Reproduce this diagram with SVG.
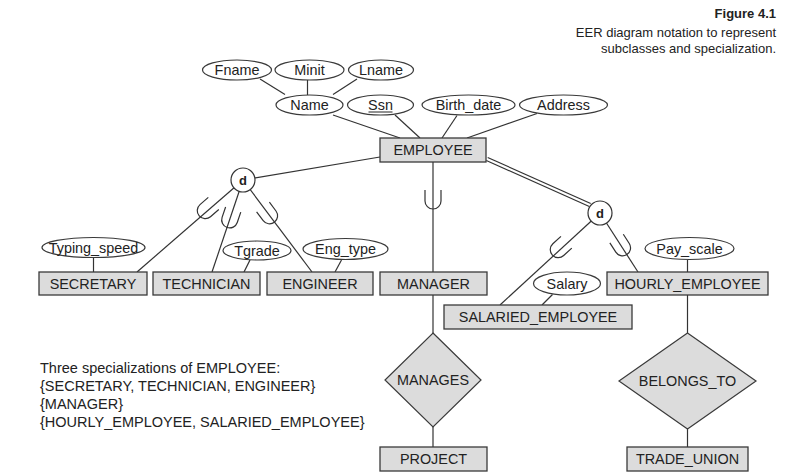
<svg xmlns="http://www.w3.org/2000/svg" xmlns:xlink="http://www.w3.org/1999/xlink" width="790" height="472" viewBox="0 0 790 472">
<defs>
<style>
text{font-family:"Liberation Sans",Arial,Helvetica,sans-serif;fill:#222}
.lbl{font-size:14.4px;text-anchor:middle}
.ent{fill:#dcdcdc;stroke:#3a3a3a;stroke-width:1.3}
.att{fill:#fff;stroke:#3a3a3a;stroke-width:1.2}
.rel{fill:#dcdcdc;stroke:#3a3a3a;stroke-width:1.2}
.ln{stroke:#333;stroke-width:1.2;fill:none}
.cir{fill:#fff;stroke:#333;stroke-width:1.2}
.d{font-size:13px;font-weight:bold;text-anchor:middle}
.note{font-size:14.5px}
.cap{font-size:13px;text-anchor:end}
</style>
<path id="cup" d="M-8,-10 V1 A8,8 0 0 0 8,1 V-10" fill="none" stroke="#333" stroke-width="1.2"/>
</defs>
<rect width="790" height="472" fill="#fff"/>

<g id="caption">
<text class="cap" x="776" y="18" font-weight="bold">Figure 4.1</text>
<text class="cap" x="776" y="36.5">EER diagram notation to represent</text>
<text class="cap" x="776" y="52.5">subclasses and specialization.</text>
</g>

<g id="connectors">
<line class="ln" x1="260" y1="79" x2="285" y2="94.5"/>
<line class="ln" x1="307.5" y1="80" x2="307.5" y2="95"/>
<line class="ln" x1="357" y1="79" x2="333" y2="94.5"/>
<line class="ln" x1="333" y1="115" x2="400" y2="138"/>
<line class="ln" x1="395" y1="115" x2="420" y2="138"/>
<line class="ln" x1="457" y1="115.5" x2="442" y2="138"/>
<line class="ln" x1="537" y1="113.5" x2="467" y2="138"/>
<line class="ln" x1="380" y1="157" x2="243" y2="180"/>
<line class="ln" x1="243" y1="180" x2="137" y2="272"/>
<line class="ln" x1="243" y1="180" x2="212" y2="272"/>
<line class="ln" x1="243" y1="180" x2="312" y2="272"/>
<line class="ln" x1="433" y1="162" x2="433" y2="272"/>
<line class="ln" x1="487.7" y1="157.5" x2="590.7" y2="203.5"/>
<line class="ln" x1="486.3" y1="160.5" x2="589.3" y2="206.5"/>
<line class="ln" x1="600" y1="213" x2="500" y2="305"/>
<line class="ln" x1="600" y1="213" x2="638" y2="272"/>
<line class="ln" x1="93.5" y1="257.5" x2="93.5" y2="272"/>
<line class="ln" x1="250" y1="260" x2="244" y2="272"/>
<line class="ln" x1="341.5" y1="260" x2="335" y2="272"/>
<line class="ln" x1="687.5" y1="260" x2="687.5" y2="272"/>
<line class="ln" x1="552.5" y1="294.5" x2="542" y2="305"/>
<line class="ln" x1="433" y1="295" x2="433" y2="333"/>
<line class="ln" x1="433" y1="427" x2="433" y2="447"/>
<line class="ln" x1="687.5" y1="295" x2="687.5" y2="333"/>
<line class="ln" x1="687.5" y1="429" x2="687.5" y2="447"/>
<use xlink:href="#cup" transform="translate(206,210) rotate(49)"/>
<use xlink:href="#cup" transform="translate(230,219) rotate(18.6)"/>
<use xlink:href="#cup" transform="translate(269,215) rotate(-36.9)"/>
<use xlink:href="#cup" transform="translate(433,200)"/>
<use xlink:href="#cup" transform="translate(559,249) rotate(47.4)"/>
<use xlink:href="#cup" transform="translate(622,247) rotate(-32.8)"/>
</g>

<g id="Fname"><ellipse class="att" cx="237" cy="70" rx="34.5" ry="10"/><text class="lbl" x="237" y="75">Fname</text></g>
<g id="Minit"><ellipse class="att" cx="309.5" cy="70" rx="34.5" ry="10"/><text class="lbl" x="309.5" y="75">Minit</text></g>
<g id="Lname"><ellipse class="att" cx="381" cy="70" rx="32.5" ry="10"/><text class="lbl" x="381" y="75">Lname</text></g>
<g id="Name"><ellipse class="att" cx="309.5" cy="105" rx="33.5" ry="10"/><text class="lbl" x="309.5" y="110">Name</text></g>
<g id="Ssn"><ellipse class="att" cx="380.5" cy="105" rx="33" ry="10"/><text class="lbl" x="380.5" y="110">Ssn</text><line x1="368.5" y1="112" x2="392.5" y2="112" stroke="#222" stroke-width="1"/></g>
<g id="Birth_date"><ellipse class="att" cx="468.5" cy="105" rx="46.5" ry="10"/><text class="lbl" x="468.5" y="110">Birth_date</text></g>
<g id="Address"><ellipse class="att" cx="563.5" cy="105" rx="44" ry="10"/><text class="lbl" x="563.5" y="110">Address</text></g>

<g id="EMPLOYEE"><rect class="ent" x="380" y="138" width="106" height="24"/><text class="lbl" x="433" y="155">EMPLOYEE</text></g>

<g id="d1"><circle class="cir" cx="243" cy="180" r="12"/><text class="d" x="243" y="185">d</text></g>
<g id="d2"><circle class="cir" cx="600" cy="213" r="12"/><text class="d" x="600" y="218">d</text></g>

<g id="Typing_speed"><ellipse class="att" cx="93.5" cy="247.5" rx="51.5" ry="10"/><text class="lbl" x="93.5" y="252.5">Typing_speed</text></g>
<g id="Tgrade"><ellipse class="att" cx="257" cy="250.5" rx="34" ry="9.5"/><text class="lbl" x="257" y="255.5">Tgrade</text></g>
<g id="Eng_type"><ellipse class="att" cx="345.5" cy="249" rx="42.5" ry="10.5"/><text class="lbl" x="345.5" y="254">Eng_type</text></g>
<g id="Pay_scale"><ellipse class="att" cx="689.5" cy="248.5" rx="44.5" ry="11"/><text class="lbl" x="689.5" y="253.5">Pay_scale</text></g>
<g id="Salary"><ellipse class="att" cx="567" cy="283.5" rx="33.5" ry="11.5"/><text class="lbl" x="567" y="288.5">Salary</text></g>

<g id="SECRETARY"><rect class="ent" x="39" y="272" width="108" height="23"/><text class="lbl" x="93" y="288.5">SECRETARY</text></g>
<g id="TECHNICIAN"><rect class="ent" x="153" y="272" width="107" height="23"/><text class="lbl" x="206.5" y="288.5">TECHNICIAN</text></g>
<g id="ENGINEER"><rect class="ent" x="267" y="272" width="106" height="23"/><text class="lbl" x="320" y="288.5">ENGINEER</text></g>
<g id="MANAGER"><rect class="ent" x="380" y="272" width="107" height="23"/><text class="lbl" x="433.5" y="288.5">MANAGER</text></g>
<g id="HOURLY_EMPLOYEE"><rect class="ent" x="607" y="272" width="161" height="23"/><text class="lbl" x="687.5" y="288.5">HOURLY_EMPLOYEE</text></g>
<g id="SALARIED_EMPLOYEE"><rect class="ent" x="444" y="305" width="188" height="24"/><text class="lbl" x="538" y="322">SALARIED_EMPLOYEE</text></g>

<g id="MANAGES"><polygon class="rel" points="433,333 481,380 433,427 385,380"/><text class="lbl" x="433" y="385">MANAGES</text></g>
<g id="BELONGS_TO"><polygon class="rel" points="687.5,333 756,381 687.5,429 619,381"/><text class="lbl" x="687.5" y="386">BELONGS_TO</text></g>

<g id="PROJECT"><rect class="ent" x="380" y="447" width="107" height="24"/><text class="lbl" x="433.5" y="464">PROJECT</text></g>
<g id="TRADE_UNION"><rect class="ent" x="627" y="447" width="121" height="24"/><text class="lbl" x="687.5" y="464">TRADE_UNION</text></g>

<g id="note">
<text class="note" x="40" y="372.5">Three specializations of EMPLOYEE:</text>
<text class="note" x="40" y="390.5">{SECRETARY, TECHNICIAN, ENGINEER}</text>
<text class="note" x="40" y="408.5">{MANAGER}</text>
<text class="note" x="40" y="426.5">{HOURLY_EMPLOYEE, SALARIED_EMPLOYEE}</text>
</g>
</svg>
